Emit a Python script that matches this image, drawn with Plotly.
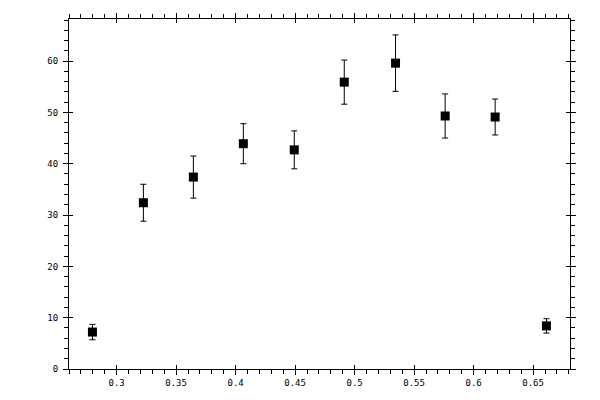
import plotly.graph_objects as go

# values
x_vals = [0.2797, 0.3225, 0.3645, 0.4065, 0.4493, 0.4913, 0.5344, 0.5761, 0.6181, 0.6612]
y_vals = [7.2, 32.4, 37.4, 43.9, 42.7, 55.9, 59.6, 49.3, 49.1, 8.4]
y_err = [1.5, 3.6, 4.1, 3.9, 3.7, 4.3, 5.5, 4.3, 3.5, 1.4]

x_range = [0.26, 0.681]
y_range = [0, 68.2]
x_ticks = [0.3, 0.35, 0.4, 0.45, 0.5, 0.55, 0.6, 0.65]
x_labels = ["0.3", "0.35", "0.4", "0.45", "0.5", "0.55", "0.6", "0.65"]
y_ticks = [0, 10, 20, 30, 40, 50, 60]

fig = go.Figure()
fig.add_trace(go.Scatter(
    x=x_vals, y=y_vals, mode="markers",
    marker=dict(symbol="square", size=9, color="black"),
    error_y=dict(type="data", array=y_err, visible=True, color="black", thickness=1, width=3),
    showlegend=False,
))

axis_font = dict(family="DejaVu Sans Mono", size=9, color="black")

# page body adds ~8px offset, so margins are shifted to compensate
fig.update_layout(
    width=600, height=400,
    margin=dict(l=61, r=38, t=11, b=39),
    paper_bgcolor="white", plot_bgcolor="white",
    font=axis_font,
    xaxis=dict(
        range=x_range, tickvals=x_ticks, ticktext=x_labels,
        ticks="outside", ticklen=5, tickwidth=1, tickcolor="black",
        minor=dict(dtick=0.01, tick0=0.3, ticks="outside", ticklen=4, tickcolor="black", tickwidth=1),
        showline=True, linecolor="black", linewidth=1, mirror="allticks",
        showgrid=False, zeroline=False, tickfont=axis_font, automargin=False,
    ),
    yaxis=dict(
        range=y_range, tickvals=y_ticks,
        ticks="outside", ticklen=5, tickwidth=1, tickcolor="black",
        minor=dict(dtick=2, tick0=0, ticks="outside", ticklen=4, tickcolor="black", tickwidth=1),
        showline=True, linecolor="black", linewidth=1, mirror="allticks",
        showgrid=False, zeroline=False, tickfont=axis_font, ticklabelstandoff=3, automargin=False,
    ),
    # overlay axes only for the inner half of the major ticks
    xaxis2=dict(
        range=x_range, overlaying="x", tickvals=x_ticks,
        ticks="inside", ticklen=4, tickcolor="black", showticklabels=False,
        showline=False, mirror="allticks", showgrid=False, zeroline=False,
    ),
    yaxis2=dict(
        range=y_range, overlaying="y", tickvals=y_ticks,
        ticks="inside", ticklen=4, tickcolor="black", showticklabels=False,
        showline=False, mirror="allticks", showgrid=False, zeroline=False,
    ),
)
fig.add_trace(go.Scatter(x=[None], y=[None], xaxis="x2", yaxis="y2", showlegend=False, hoverinfo="skip"))

fig.write_html("out.html")
